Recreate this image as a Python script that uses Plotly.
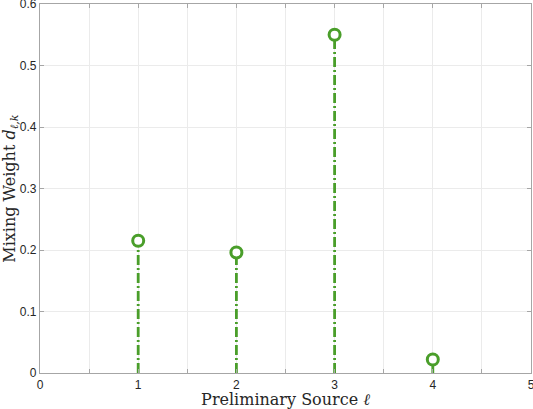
import plotly.graph_objects as go

# data
sources = [1, 2, 3, 4]
weights = [0.215, 0.196, 0.550, 0.022]
x_ticks = [0, 1, 2, 3, 4, 5]
y_ticks = [0, 0.1, 0.2, 0.3, 0.4, 0.5, 0.6]
y_ticklabels = ["0", "0.1", "0.2", "0.3", "0.4", "0.5", "0.6"]

GREEN = "#4a9e2a"
AXIS = "#a6a6a6"
GRID = "#ebebeb"

# stems: one line per point, from the axis up to the value
stem_x, stem_y = [], []
for s, w in zip(sources, weights):
    stem_x += [s, s, None]
    stem_y += [0, w, None]

fig = go.Figure()
fig.add_trace(go.Scatter(
    x=stem_x, y=stem_y, mode="lines",
    line=dict(color=GREEN, width=2.8, dash="10px,3px,2px,3px"),
    hoverinfo="skip",
))
fig.add_trace(go.Scatter(
    x=sources, y=weights, mode="markers",
    marker=dict(symbol="circle", size=11, color="white",
                line=dict(color=GREEN, width=3)),
))

tick_font = dict(family="Helvetica, Arial, Liberation Sans, sans-serif", size=12, color="#262626")
title_font = dict(family="DejaVu Serif, serif", size=16, color="#262626")

axis_common = dict(
    ticks="inside", ticklen=4, tickcolor=AXIS,
    showline=True, linecolor=AXIS, linewidth=1.2, mirror="ticks",
    showgrid=True, gridcolor=GRID, gridwidth=1,
    zeroline=False, tickfont=tick_font, ticklabeloverflow="allow",
    automargin=False,
)

fig.update_layout(
    width=533, height=409,
    margin=dict(l=40, r=2, t=4, b=36),
    paper_bgcolor="white", plot_bgcolor="white",
    showlegend=False,
    xaxis=dict(
        range=[0, 5], tickvals=x_ticks,
        minor=dict(dtick=0.5, tick0=0, ticks="inside", ticklen=4, tickcolor=AXIS,
                   showgrid=True, gridcolor=GRID),
        title=dict(text="Preliminary Source <i>ℓ</i>", font=title_font, standoff=2),
        **axis_common,
    ),
    yaxis=dict(
        range=[0, 0.6], tickvals=y_ticks, ticktext=y_ticklabels,
        title=dict(text="Mixing Weight <i>d</i><sub><i>ℓ,k</i></sub>", font=title_font, standoff=6),
        **axis_common,
    ),
)

fig.write_html("out.html", config={"displayModeBar": False},
               post_script="document.body.style.margin='0';")
